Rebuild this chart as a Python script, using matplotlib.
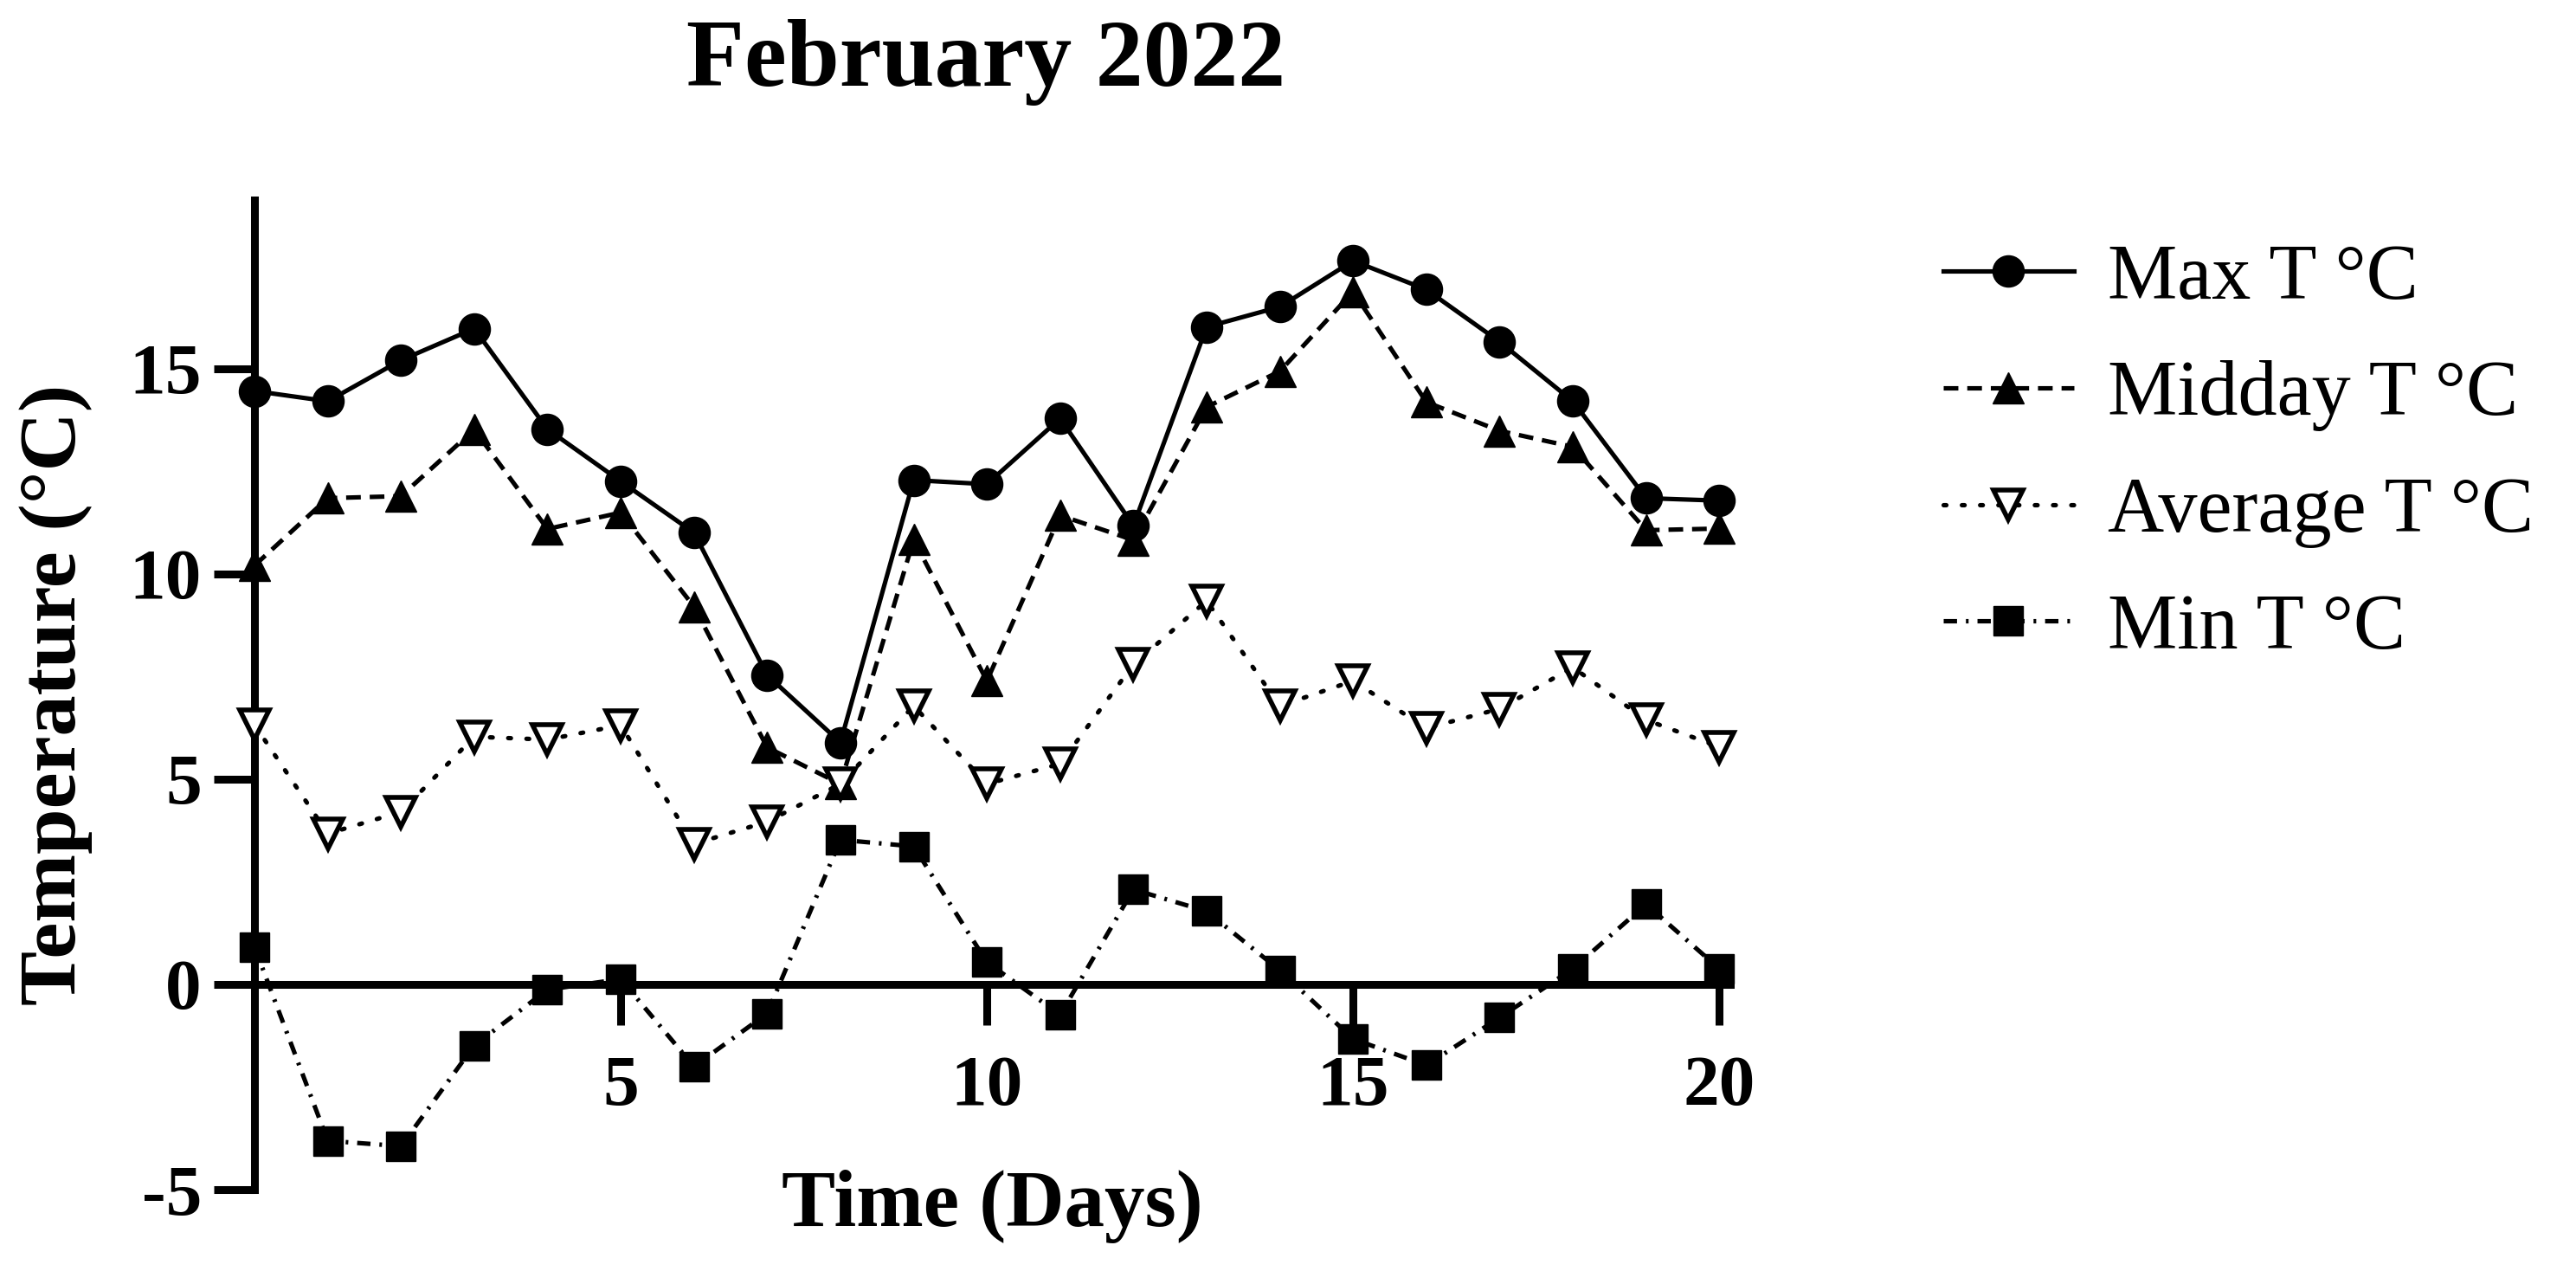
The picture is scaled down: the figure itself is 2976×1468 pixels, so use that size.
import numpy as np
import matplotlib.pyplot as plt

# temperature readings, February 2022
days = list(range(0, 21))
max_t = [14.45, 14.2, 15.2, 15.97, 13.52, 12.25, 11.0, 7.53, 5.89, 12.28, 12.18,
         13.78, 11.17, 16.01, 16.5, 17.62, 16.92, 15.65, 14.2, 11.84, 11.78]
midday_t = [10.2, 11.84, 11.89, 13.51, 11.09, 11.49, 9.2, 5.77, 4.88, 10.83, 7.39,
            11.42, 10.82, 14.06, 14.93, 16.87, 14.18, 13.48, 13.09, 11.06, 11.1]
avg_t = [6.32, 3.67, 4.2, 6.03, 5.96, 6.31, 3.42, 3.96, 4.88, 6.78, 4.88,
         5.37, 7.79, 9.34, 6.78, 7.39, 6.24, 6.71, 7.72, 6.44, 5.78]
min_t = [0.91, -3.81, -3.94, -1.49, -0.13, 0.13, -2.0, -0.71, 3.52, 3.36, 0.54,
         -0.74, 2.31, 1.78, 0.34, -1.33, -1.97, -0.81, 0.38, 1.95, 0.38]

labels = ["Max T °C", "Midday T °C", "Average T °C", "Min T °C"]
xticks = [5, 10, 15, 20]
yticks = [-5, 0, 5, 10, 15]

plt.rcParams['font.family'] = ['Liberation Serif', 'DejaVu Serif']
plt.rcParams['axes.unicode_minus'] = False

fig = plt.figure(figsize=(29.76, 14.68), dpi=100)
ax = fig.add_axes([0.0988, 0.0640, 0.5729, 0.7786])

lw = 3.7
ms = 26
ax.plot(days, max_t, color='black', lw=lw, marker='o', ms=ms, clip_on=False,
        label=labels[0], zorder=4)
ax.plot(days, midday_t, color='black', lw=lw, marker='^', ms=ms, clip_on=False,
        dashes=(3.3, 2.0), label=labels[1], zorder=3)
ax.plot(days, avg_t, color='black', lw=lw, marker='v', ms=ms - 1, mfc='white',
        mec='black', mew=4, clip_on=False, dashes=(0.6, 3.5), dash_capstyle='round',
        label=labels[2], zorder=3)
ax.plot(days, min_t, color='black', lw=lw, marker='s', ms=ms - 1, clip_on=False,
        dashes=(3.0, 2.0, 0.6, 2.0), label=labels[3], zorder=3)

ax.set_xlim(0, 20.15)
ax.set_ylim(-5, 19.1)

for s in ['top', 'right']:
    ax.spines[s].set_visible(False)
ax.spines['bottom'].set_position(('data', 0))
ax.spines['left'].set_linewidth(6.5)
ax.spines['bottom'].set_linewidth(6.5)
ax.spines['left'].set_capstyle('projecting')

ax.set_xticks(xticks)
ax.set_yticks(yticks)
ax.tick_params(axis='both', width=6.5, length=34, direction='out', labelsize=60)
ax.tick_params(axis='x', pad=25)
ax.tick_params(axis='y', pad=10)
for t in ax.get_xticklabels() + ax.get_yticklabels():
    t.set_fontweight('bold')

ax.set_xlabel("Time (Days)", fontsize=67, fontweight='bold')
ax.xaxis.set_label_coords(0.5, 0.02)
ax.set_ylabel("Temperature (°C)", fontsize=68, fontweight='bold')
ax.yaxis.set_label_coords(-0.1095, 0.5)

fig.text(0.3827, 1 - 72 / 1468, "February 2022", fontsize=79, fontweight='bold',
         ha='center', va='center')

fig.legend(loc='upper left', bbox_to_anchor=(2245 / 2976, 1 - 281 / 1468),
           frameon=False, fontsize=65, handlelength=1.67, handletextpad=0.43,
           labelspacing=0.58, borderpad=0, borderaxespad=0)

fig.savefig("out.png", dpi=100)
